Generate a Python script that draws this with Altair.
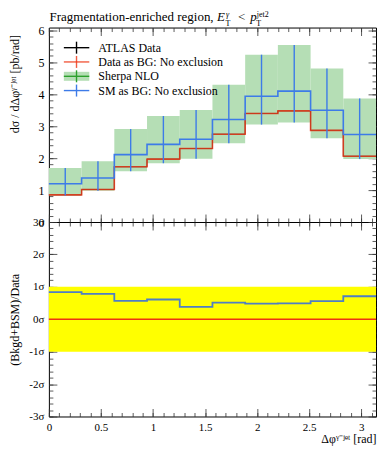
import altair as alt
import pandas as pd

# ---------------- data ----------------
edges = [0.0, 0.3142, 0.6283, 0.9425, 1.2566, 1.5708, 1.8850, 2.1991, 2.5133, 2.8274, 3.1416]
atlas_data = [0.85, 1.02, 1.73, 1.97, 2.30, 2.75, 3.40, 3.48, 2.87, 2.06]
sherpa_nlo = [1.20, 1.38, 2.11, 2.43, 2.59, 3.21, 3.94, 4.10, 3.50, 2.74]
sherpa_lo = [0.83, 0.98, 1.59, 1.84, 1.98, 2.47, 3.05, 3.12, 2.62, 1.97]
sherpa_hi = [1.69, 1.90, 2.91, 3.32, 3.51, 4.30, 5.24, 5.54, 4.81, 3.87]
ratio_sm = [0.84, 0.78, 0.57, 0.61, 0.38, 0.51, 0.48, 0.49, 0.56, 0.71]
ratio_data = [0, 0, 0, 0, 0, 0, 0, 0, 0, 0]
sigma_band = [-1, 1]

x_major = [0, 0.5, 1, 1.5, 2, 2.5, 3]
x_minor = [round(0.1 * i, 1) for i in range(32)]
y_top_major = [0, 1, 2, 3, 4, 5, 6]
y_top_minor = [round(0.2 * i, 1) for i in range(31)]
y_bot_major = [-3, -2, -1, 0, 1, 2, 3]
y_bot_minor = [round(-3 + 0.2 * i, 1) for i in range(31)]

legend_labels = ["ATLAS Data", "Data as BG: No exclusion", "Sherpa NLO", "SM as BG: No exclusion"]

# ---------------- style ----------------
W, H = 328, 195
SERIF = "Liberation Serif"
RED = "#ee3311"
BLUE = "#3d7be8"
GREEN_FILL = "#b5deb5"
GREEN_LINE = "#2ca02c"
TICK = "#333333"

bins = pd.DataFrame({
    "lo": edges[:-1], "hi": edges[1:],
    "c": [(a + b) / 2 for a, b in zip(edges[:-1], edges[1:])],
    "smlo": sherpa_lo, "smhi": sherpa_hi,
})
steps = pd.DataFrame({
    "x": edges,
    "data": atlas_data + [atlas_data[-1]],
    "sm": sherpa_nlo + [sherpa_nlo[-1]],
    "ratio": ratio_sm + [ratio_sm[-1]],
    "zero": ratio_data + [ratio_data[-1]],
})
band_df = pd.DataFrame({"x0": [edges[0]], "x1": [edges[-1]], "y0": [sigma_band[0]], "y1": [sigma_band[1]]})
one = pd.DataFrame({"a": [0]})

xs = alt.Scale(domain=[0, edges[-1]], nice=False, zero=False)
ys_top = alt.Scale(domain=[0, 6.09], nice=False, zero=False)
ys_bot = alt.Scale(domain=[-3, 3], nice=False, zero=False)


def ax_in(orient, values, size, offset):
    return alt.Axis(orient=orient, offset=-offset, values=values, tickSize=size,
                    labels=False, domain=False, grid=False, title=None,
                    tickColor=TICK, tickWidth=0.8)


def tick_layers(ys, field, ymaj, ymin):
    out = []
    for xo, yo, xv, yv, sz in [("top", "right", x_major, ymaj, 8),
                               ("top", "right", x_minor, ymin, 4),
                               ("bottom", "left", x_major, ymaj, 8),
                               ("bottom", "left", x_minor, ymin, 4)]:
        out.append(alt.Chart(steps).mark_point(opacity=0, size=0).encode(
            x=alt.X("x:Q", scale=xs, axis=ax_in(xo, xv, sz, H)),
            y=alt.Y(field + ":Q", scale=ys, axis=ax_in(yo, yv, sz, W)),
        ))
    return out


def txt(s, x, y, size=12, italic=False, align="left", baseline="alphabetic"):
    return alt.Chart(one).mark_text(
        font=SERIF, fontSize=size, fontStyle="italic" if italic else "normal",
        align=align, baseline=baseline, color="black",
    ).encode(x=alt.value(x), y=alt.value(y), text=alt.value(s))


# ---------------- top panel ----------------
band = alt.Chart(bins).mark_rect(color=GREEN_FILL).encode(
    x=alt.X("lo:Q", scale=xs, axis=None), x2="hi",
    y=alt.Y("smlo:Q", scale=ys_top, axis=alt.Axis(
        orient="left", values=y_top_major, ticks=False, domain=False, grid=False,
        labelFont=SERIF, labelFontSize=12, labelPadding=5, labelColor="black",
        labelFlush=False, labelOverlap=False,
        title="dσ / dΔφᵞ⁻ʲᵉᵗ [pb/rad]", titleFont=SERIF, titleFontSize=12,
        titleFontWeight="normal", titleColor="black", titleX=-34, titleY=7,
        titleAlign="right", titleBaseline="middle")),
    y2="smhi",
)
black_line = alt.Chart(steps).mark_line(interpolate="step-after", color="black", strokeWidth=1.0, opacity=0.7).encode(
    x=alt.X("x:Q", scale=xs, axis=None), y=alt.Y("data:Q", scale=ys_top, axis=None))
red_line = alt.Chart(steps).mark_line(interpolate="step-after", color=RED, strokeWidth=1.6, opacity=0.8).encode(
    x=alt.X("x:Q", scale=xs, axis=None), y=alt.Y("data:Q", scale=ys_top, axis=None))
blue_line = alt.Chart(steps).mark_line(interpolate="step-after", color=BLUE, strokeWidth=1.6).encode(
    x=alt.X("x:Q", scale=xs, axis=None), y=alt.Y("sm:Q", scale=ys_top, axis=None))
blue_err = alt.Chart(bins).mark_rule(color=BLUE, strokeWidth=1.4).encode(
    x=alt.X("c:Q", scale=xs, axis=None), y=alt.Y("smlo:Q", scale=ys_top, axis=None), y2="smhi")

# legend (inside plot, top-left)
leg = []
leg_y = [20.2, 34.5, 48.9, 63.2]
leg_col = ["black", RED, GREEN_LINE, BLUE]
for lab, yc, col in zip(legend_labels, leg_y, leg_col):
    if col == GREEN_LINE:
        leg.append(alt.Chart(one).mark_rect(color=GREEN_FILL).encode(
            x=alt.value(15), x2=alt.value(40.5), y=alt.value(yc - 4.5), y2=alt.value(yc + 4.5)))
    leg.append(alt.Chart(one).mark_rule(color=col, strokeWidth=1.4, opacity=0.8 if col == RED else 1).encode(
        x=alt.value(15), x2=alt.value(40.5), y=alt.value(yc)))
    leg.append(alt.Chart(one).mark_rule(color=col, strokeWidth=1.4, opacity=0.8 if col == RED else 1).encode(
        x=alt.value(27.7), y=alt.value(yc - 6), y2=alt.value(yc + 6)))
    leg.append(txt(lab, 49.5, yc, size=12, baseline="middle"))

# title with sub/superscripts
title_parts = [
    txt("Fragmentation-enriched region,", 0.7, -6.5, size=13),
    txt("E", 168.5, -6.5, size=13, italic=True),
    txt("γ", 177.5, -10.5, size=8, italic=True),
    txt("T", 177.0, -2.0, size=8),
    txt("<", 189.5, -6.5, size=13),
    txt("p", 202.0, -6.5, size=13, italic=True),
    txt("jet2", 208.5, -10.5, size=8),
    txt("T", 208.0, -2.0, size=8),
]

top = alt.layer(
    band, black_line, red_line, blue_line, blue_err,
    *tick_layers(ys_top, "data", y_top_major, y_top_minor),
    *leg, *title_parts,
).resolve_axis(x="independent", y="independent").properties(width=W, height=H)

# ---------------- bottom panel ----------------
yellow = alt.Chart(band_df).mark_rect(color="#ffff00").encode(
    x=alt.X("x0:Q", scale=xs, axis=alt.Axis(
        orient="bottom", values=x_major, format="~g", ticks=False, domain=False, grid=False,
        labelFont=SERIF, labelFontSize=11, labelPadding=5, labelColor="black",
        labelFlush=False, labelOverlap=False,
        title="Δφᵞ⁻ʲᵉᵗ [rad]", titleFont=SERIF, titleFontSize=12, titleFontWeight="normal",
        titleColor="black", titleX=W, titleY=26, titleAlign="right", titleBaseline="alphabetic")),
    x2="x1",
    y=alt.Y("y0:Q", scale=ys_bot, axis=alt.Axis(
        orient="left", values=y_bot_major, ticks=False, domain=False, grid=False,
        labelExpr="datum.value + 'σ'",
        labelFont=SERIF, labelFontSize=11, labelPadding=5, labelColor="black",
        labelFlush=False, labelOverlap=False,
        title="(Bkgd+BSM)/Data", titleFont=SERIF, titleFontSize=12, titleFontWeight="normal",
        titleColor="black", titleX=-34, titleY=H / 2, titleAlign="center", titleBaseline="middle")),
    y2="y1",
)
zero_line = alt.Chart(steps).mark_line(interpolate="step-after", color=RED, strokeWidth=1.5).encode(
    x=alt.X("x:Q", scale=xs, axis=None), y=alt.Y("zero:Q", scale=ys_bot, axis=None))
ratio_line = alt.Chart(steps).mark_line(interpolate="step-after", color="#4f7fc4", strokeWidth=1.8).encode(
    x=alt.X("x:Q", scale=xs, axis=None), y=alt.Y("ratio:Q", scale=ys_bot, axis=None))

bottom = alt.layer(
    yellow, zero_line, ratio_line,
    *tick_layers(ys_bot, "ratio", y_bot_major, y_bot_minor),
).resolve_axis(x="independent", y="independent").properties(width=W, height=H)

chart = alt.vconcat(top, bottom, spacing=0, bounds="flush").properties(
    padding={"left": 0, "top": 2, "right": 0, "bottom": 0}
).configure_view(stroke="black", strokeWidth=1)

chart.save("out.html", embed_options={"renderer": "svg", "actions": False})
